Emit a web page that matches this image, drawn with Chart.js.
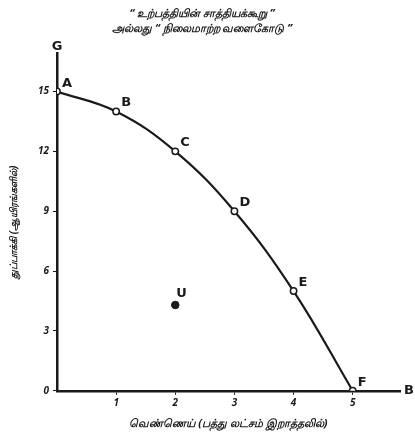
<!DOCTYPE html>
<html>
<head>
<meta charset="utf-8">
<script src="https://cdn.jsdelivr.net/npm/chart.js@4/dist/chart.umd.min.js"></script>
<style>
  html, body { margin: 0; padding: 0; background: #fff; }
  #wrap { width: 415px; height: 445px; }
</style>
</head>
<body>
<div id="wrap"><canvas id="chart"></canvas></div>
<script>
// production possibility curve: butter (x) vs guns (y)
const curveX = [0, 1, 2, 3, 4, 5];
const curveY = [15, 14, 12, 9, 5, 0];
const curveNames = ['A', 'B', 'C', 'D', 'E', 'F'];

const insideX = [2];
const insideY = [4.3];
const insideNames = ['U'];

const xTicks = [1, 2, 3, 4, 5];
const yTicks = [0, 3, 6, 9, 12, 15];

const titleLines = ['“ உற்பத்தியின் சாத்தியக்கூறு ”', 'அல்லது “ நிலைமாற்ற வளைகோடு ”'];
const xTitle = 'வெண்ணெய் (பத்து லட்சம் இறாத்தலில்)';
const yTitle = 'துப்பாக்கி (ஆயிரங்களில்)';
const xEndName = 'B';
const yEndName = 'G';

const INK = '#1a1a1a';
const FONT = "'Noto Sans', 'DejaVu Sans', sans-serif";

// letters next to the points and at the axis ends
const letterPlugin = {
    id: 'letters',
    afterDatasetsDraw(chart) {
        const ctx = chart.ctx;
        const xs = chart.scales.x;
        const ys = chart.scales.y;
        ctx.save();
        ctx.fillStyle = INK;
        ctx.font = "bold 13px 'DejaVu Sans', sans-serif";
        ctx.textAlign = 'left';
        ctx.textBaseline = 'alphabetic';
        curveNames.forEach((name, i) => {
            ctx.fillText(name, xs.getPixelForValue(curveX[i]) + 5, ys.getPixelForValue(curveY[i]) - 5);
        });
        insideNames.forEach((name, i) => {
            ctx.fillText(name, xs.getPixelForValue(insideX[i]) + 1, ys.getPixelForValue(insideY[i]) - 8);
        });
        ctx.textAlign = 'center';
        ctx.fillText(yEndName, xs.left, ys.top - 4);
        ctx.textAlign = 'left';
        ctx.textBaseline = 'middle';
        ctx.fillText(xEndName, xs.right + 4, ys.bottom);
        ctx.restore();
    }
};

const ctx = document.getElementById('chart').getContext('2d');
const chart = new Chart(ctx, {
    type: 'line',
    data: {
        datasets: [
            {
                data: curveX.map((x, i) => ({ x: x, y: curveY[i] })),
                borderColor: INK,
                borderWidth: 2.2,
                tension: 0.4,
                pointRadius: 3.2,
                pointBorderWidth: 1.5,
                pointBorderColor: INK,
                pointBackgroundColor: '#fff',
                fill: false
            },
            {
                data: insideX.map((x, i) => ({ x: x, y: insideY[i] })),
                showLine: false,
                pointRadius: 3.8,
                pointBorderColor: INK,
                pointBackgroundColor: INK
            }
        ]
    },
    options: {
        responsive: true,
        maintainAspectRatio: false,
        animation: false,
        layout: { padding: { left: 4, right: 15, top: 0, bottom: 11 } },
        plugins: {
            legend: { display: false },
            tooltip: { enabled: false },
            title: {
                display: true,
                text: titleLines,
                color: INK,
                font: { family: FONT, size: 11, style: 'italic', lineHeight: 1.3 },
                padding: { top: 7, bottom: 18 }
            }
        },
        scales: {
            x: {
                type: 'linear',
                min: 0,
                max: 5.8,
                afterBuildTicks: s => { s.ticks = xTicks.map(v => ({ value: v })); },
                border: { display: true, color: INK, width: 2.5 },
                grid: { drawOnChartArea: false, drawTicks: true, tickLength: 4, color: INK },
                ticks: { color: INK, font: { family: FONT, size: 10, style: 'italic', weight: 'bold' }, padding: 2 },
                title: { display: true, text: xTitle, color: INK, font: { family: FONT, size: 11, style: 'italic', weight: 'bold' }, padding: { top: 6 } }
            },
            y: {
                type: 'linear',
                min: 0,
                max: 16.9,
                afterBuildTicks: s => { s.ticks = yTicks.map(v => ({ value: v })); },
                border: { display: true, color: INK, width: 2.5 },
                grid: { drawOnChartArea: false, drawTicks: true, tickLength: 4, color: INK },
                ticks: { color: INK, font: { family: FONT, size: 10, style: 'italic', weight: 'bold' }, padding: 4 },
                title: { display: true, text: yTitle, color: INK, font: { family: FONT, size: 10, style: 'italic', weight: 'bold' }, padding: { bottom: 6 } },
                afterFit: s => { s.width = 53; }
            }
        }
    },
    plugins: [letterPlugin]
});
</script>
</body>
</html>
